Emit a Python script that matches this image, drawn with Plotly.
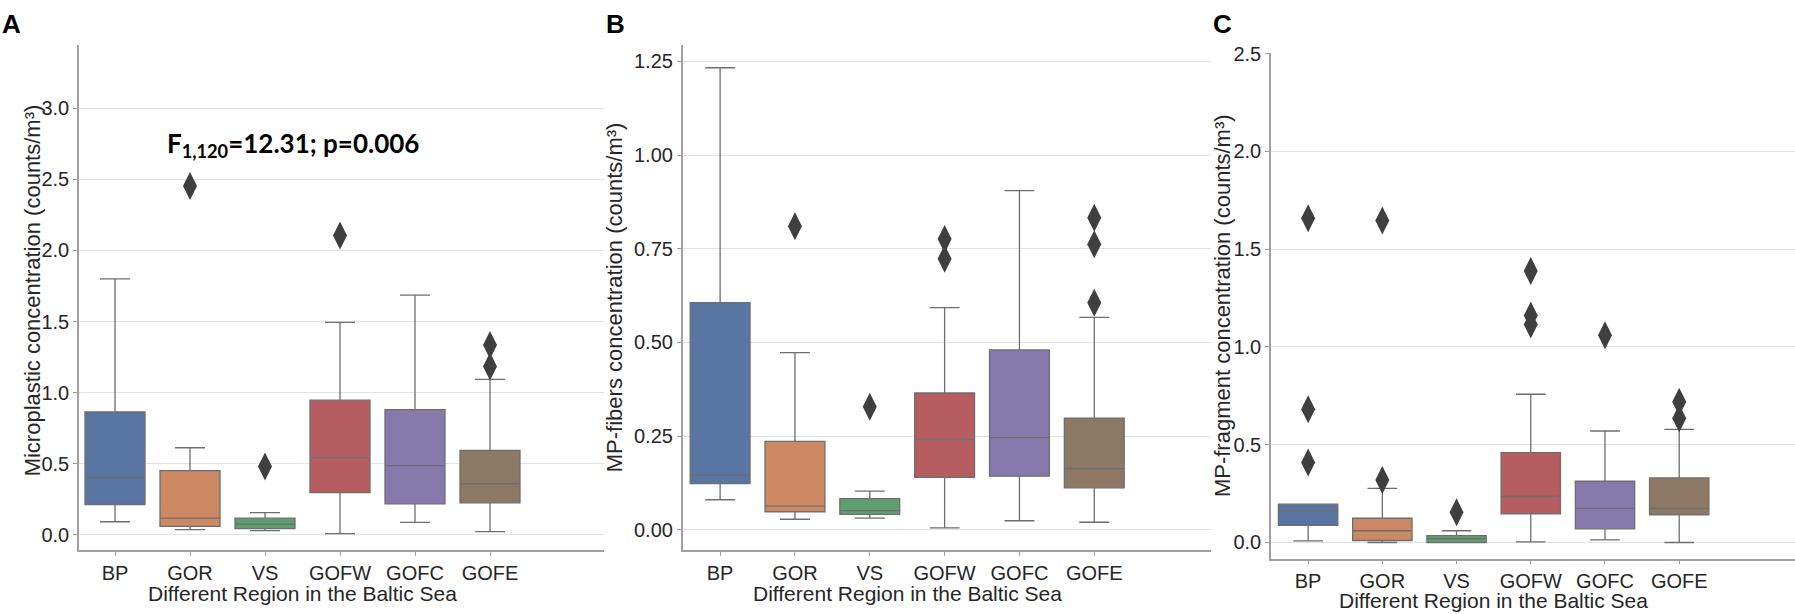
import plotly.graph_objects as go

CATS = ["BP", "GOR", "VS", "GOFW", "GOFC", "GOFE"]
COLORS = ["#5975a4", "#cc8963", "#5f9e6e", "#b55d60", "#857aab", "#8d7866"]

# Panel A: total microplastic concentration
A_LOW = [0.093, 0.037, 0.030, 0.010, 0.088, 0.023]
A_Q1 = [0.214, 0.060, 0.044, 0.297, 0.219, 0.226]
A_MED = [0.404, 0.118, 0.076, 0.544, 0.487, 0.360]
A_Q3 = [0.864, 0.452, 0.118, 0.947, 0.881, 0.595]
A_HIGH = [1.800, 0.613, 0.157, 1.494, 1.685, 1.093]
A_OUT_CAT = ["GOR", "VS", "GOFW", "GOFE", "GOFE"]
A_OUT_VAL = [2.453, 0.482, 2.105, 1.335, 1.183]

# Panel B: MP-fibers concentration
B_LOW = [0.080, 0.028, 0.031, 0.005, 0.024, 0.020]
B_Q1 = [0.123, 0.048, 0.041, 0.140, 0.143, 0.112]
B_MED = [0.145, 0.063, 0.051, 0.242, 0.246, 0.163]
B_Q3 = [0.606, 0.236, 0.083, 0.365, 0.480, 0.298]
B_HIGH = [1.233, 0.473, 0.103, 0.593, 0.905, 0.567]
B_OUT_CAT = ["GOR", "VS", "GOFW", "GOFW", "GOFE", "GOFE", "GOFE"]
B_OUT_VAL = [0.810, 0.328, 0.776, 0.723, 0.833, 0.762, 0.606]

# Panel C: MP-fragment concentration
C_LOW = [0.008, 0.000, 0.000, 0.003, 0.013, 0.000]
C_Q1 = [0.087, 0.010, 0.000, 0.147, 0.070, 0.141]
C_MED = [0.161, 0.060, 0.020, 0.235, 0.174, 0.174]
C_Q3 = [0.196, 0.124, 0.035, 0.459, 0.313, 0.330]
C_HIGH = [0.196, 0.277, 0.060, 0.758, 0.570, 0.578]
C_OUT_CAT = ["BP", "BP", "BP", "GOR", "GOR", "VS", "GOFW", "GOFW", "GOFW", "GOFC", "GOFE", "GOFE"]
C_OUT_VAL = [1.658, 0.681, 0.409, 1.646, 0.320, 0.154, 1.388, 1.160, 1.115, 1.060, 0.719, 0.635]

A_TICKS = [0.0, 0.5, 1.0, 1.5, 2.0, 2.5, 3.0]
B_TICKS = [0.0, 0.25, 0.5, 0.75, 1.0, 1.25]
C_TICKS = [0.0, 0.5, 1.0, 1.5, 2.0, 2.5]

W, H = 1795, 614
LINE = "#6e6e6e"
AXC = "#a0a0a0"
TXT = "#262626"
FONT = "Liberation Sans, Arial, sans-serif"

fig = go.Figure()

panels = [
    ("x", "y", A_LOW, A_Q1, A_MED, A_Q3, A_HIGH, A_OUT_CAT, A_OUT_VAL),
    ("x2", "y2", B_LOW, B_Q1, B_MED, B_Q3, B_HIGH, B_OUT_CAT, B_OUT_VAL),
    ("x3", "y3", C_LOW, C_Q1, C_MED, C_Q3, C_HIGH, C_OUT_CAT, C_OUT_VAL),
]

for xa, ya, lo, q1, med, q3, hi, ocat, oval in panels:
    for i, cat in enumerate(CATS):
        fig.add_trace(go.Box(
            x=[cat], q1=[q1[i]], median=[med[i]], q3=[q3[i]],
            lowerfence=[lo[i]], upperfence=[hi[i]],
            fillcolor=COLORS[i], line=dict(color=LINE, width=1.3),
            width=0.8, whiskerwidth=0.5, boxpoints=False,
            showlegend=False, xaxis=xa, yaxis=ya,
        ))
    fig.add_trace(go.Scatter(
        x=ocat, y=oval, mode="markers",
        marker=dict(symbol="diamond-tall", size=20, color="#3f3f3f",
                    line=dict(width=0)),
        showlegend=False, xaxis=xa, yaxis=ya,
    ))


def px_x(p):
    return p / W


def px_y(p):
    return 1 - p / H


def xaxis(dom, anchor, rng):
    return dict(
        domain=dom, anchor=anchor, type="category",
        categoryorder="array", categoryarray=CATS, range=rng,
        showline=True, linecolor=AXC, linewidth=1.5,
        ticks="outside", ticklen=4, tickcolor=AXC, tickwidth=1.2,
        showgrid=False, zeroline=False,
        tickfont=dict(family=FONT, size=20, color=TXT),
    )


def yaxis(dom, anchor, rng, ticks, fmt):
    return dict(
        domain=dom, anchor=anchor, range=rng,
        tickvals=ticks, ticktext=[fmt.format(t) for t in ticks],
        showline=True, linecolor=AXC, linewidth=1.5,
        ticks="outside", ticklen=4, tickcolor=AXC, tickwidth=1.2,
        showgrid=True, gridcolor="#e3e3e3", gridwidth=1.3, zeroline=False,
        tickfont=dict(family=FONT, size=20, color=TXT),
    )


fig.update_layout(
    width=W, height=H,
    margin=dict(l=0, r=0, t=0, b=0),
    paper_bgcolor="white", plot_bgcolor="white",
    boxmode="overlay",
    xaxis=xaxis([px_x(79), px_x(604)], "y", [-0.48, 6.52]),
    yaxis=yaxis([px_y(549.3), px_y(36)], "x", [-0.108, 3.44], A_TICKS, "{:.1f}"),
    xaxis2=xaxis([px_x(682.7), px_x(1211)], "y2", [-0.5, 6.56]),
    yaxis2=yaxis([px_y(549.3), px_y(35.5)], "x2", [-0.055, 1.294], B_TICKS, "{:.2f}"),
    xaxis3=xaxis([px_x(1271), 1.0], "y3", [-0.5, 6.56]),
    yaxis3=yaxis([px_y(557.7), px_y(43.3)], "x3", [-0.0825, 2.505], C_TICKS, "{:.1f}"),
)

ann = []
# panel letters
for letter, xp in [("A", 0), ("B", 604), ("C", 1211)]:
    ann.append(dict(text="<b>" + letter + "</b>", x=px_x(xp), y=px_y(-3),
                    xref="paper", yref="paper", xanchor="left", yanchor="top",
                    showarrow=False, font=dict(family=FONT, size=26, color="black")))
# y titles
ytitles = [
    ("Microplastic concentration (counts/m³)", 32, 285),
    ("MP-fibers concentration (counts/m³)", 614, 292),
    ("MP-fragment concentration (counts/m³)", 1222, 301),
]
for t, xp, yp in ytitles:
    ann.append(dict(text=t, x=px_x(xp), y=px_y(yp), xref="paper", yref="paper",
                    xanchor="center", yanchor="middle", textangle=-90,
                    showarrow=False, font=dict(family=FONT, size=22, color=TXT)))
# x titles (centred on the categories)
for xr, yp in [("x", 593.5), ("x2", 593.5), ("x3", 600.5)]:
    ann.append(dict(text="Different Region in the Baltic Sea", x=2.5, y=px_y(yp),
                    xref=xr, yref="paper", xanchor="center", yanchor="middle",
                    showarrow=False, font=dict(family=FONT, size=21, color=TXT)))
# statistics text
ann.append(dict(text="<b>F<sub>1,120</sub>=12.31; p=0.006</b>", x=px_x(165), y=px_y(137),
                xref="paper", yref="paper", xanchor="left", yanchor="middle",
                showarrow=False, font=dict(family="Lato, sans-serif", size=26, color="black")))
fig.update_layout(annotations=ann)

fig.write_html("out.html",
               config={"displayModeBar": False},
               post_script="document.body.style.margin='0';document.body.style.overflow='hidden';")
